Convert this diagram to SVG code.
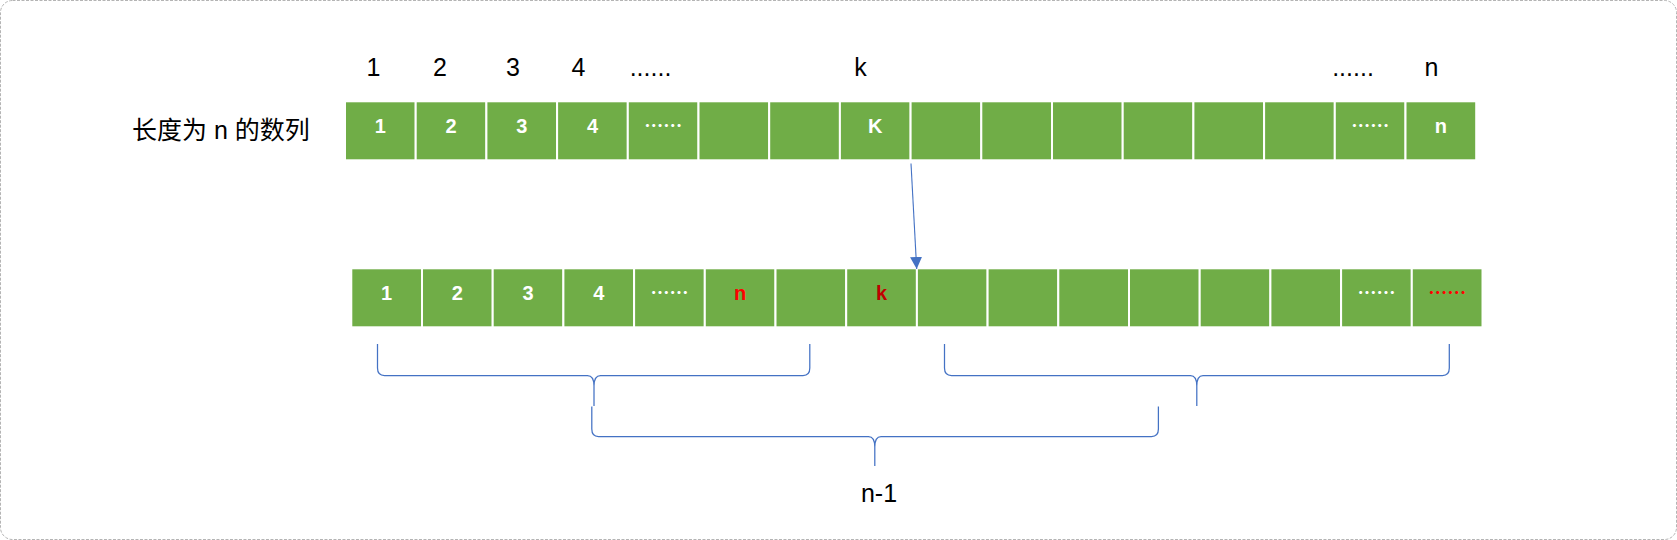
<svg xmlns="http://www.w3.org/2000/svg" width="1677" height="540" viewBox="0 0 1677 540">
  <defs>
    <style>
      .cell { fill: #70AD47; stroke: #FFFFFF; stroke-width: 2; }
      .ct { font-family: "Liberation Sans", "Noto Sans CJK SC", sans-serif; font-size: 20px; font-weight: bold; fill: #FFFFFF; text-anchor: middle; }
      .dots { font-family: "Noto Sans CJK SC", sans-serif; font-size: 19px; font-weight: bold; fill: #FFFFFF; text-anchor: middle; }
      .red { fill: #FF0000; }
      .dred { fill: #C00000; }
      .lbl { font-family: "Liberation Sans", "Noto Sans CJK SC", sans-serif; font-size: 25px; fill: #000000; text-anchor: middle; }
      .brace { fill: none; stroke: #4472C4; stroke-width: 1.25; }
      .conn { fill: none; stroke: #4472C4; stroke-width: 1.1; }
    </style>
    <marker id="arrow" viewBox="0 0 12 12" refX="12" refY="6" markerWidth="12" markerHeight="12" markerUnits="userSpaceOnUse" orient="auto">
      <path d="M0,0 L12,6 L0,12 z" fill="#4472C4"/>
    </marker>
  </defs>

  <rect id="frame" x="0.5" y="0.5" width="1676" height="539" rx="12" ry="12" fill="#FFFFFF" stroke="#B4B4B4" stroke-width="1" stroke-dasharray="3 1.5"/>

  <g id="top-labels">
    <text class="lbl" x="373.5" y="76">1</text>
    <text class="lbl" x="440" y="76">2</text>
    <text class="lbl" x="513" y="76">3</text>
    <text class="lbl" x="578.5" y="76">4</text>
    <text class="lbl" x="650.5" y="76">......</text>
    <text class="lbl" x="860.5" y="76">k</text>
    <text class="lbl" x="1353" y="76">......</text>
    <text class="lbl" x="1431.5" y="76">n</text>
  </g>

  <g id="title">
    <text x="132" y="139" style="font-family: 'Liberation Sans', 'Noto Sans CJK SC', sans-serif; font-size: 25px; fill: #000000;">长度为 n 的数列</text>
  </g>

  <g id="top-row">
    <g id="t1"><rect class="cell" x="345.0" y="101.3" width="70.7" height="59"/><text class="ct" x="380.35" y="133">1</text></g>
    <g id="t2"><rect class="cell" x="415.7" y="101.3" width="70.7" height="59"/><text class="ct" x="451.05" y="133">2</text></g>
    <g id="t3"><rect class="cell" x="486.4" y="101.3" width="70.7" height="59"/><text class="ct" x="521.75" y="133">3</text></g>
    <g id="t4"><rect class="cell" x="557.1" y="101.3" width="70.7" height="59"/><text class="ct" x="592.45" y="133">4</text></g>
    <g id="t5"><rect class="cell" x="627.8" y="101.3" width="70.7" height="59"/><text class="dots" x="663.15" y="132.8">……</text></g>
    <g id="t6"><rect class="cell" x="698.5" y="101.3" width="70.7" height="59"/></g>
    <g id="t7"><rect class="cell" x="769.2" y="101.3" width="70.7" height="59"/></g>
    <g id="t8"><rect class="cell" x="839.9" y="101.3" width="70.7" height="59"/><text class="ct" x="875.25" y="133">K</text></g>
    <g id="t9"><rect class="cell" x="910.6" y="101.3" width="70.7" height="59"/></g>
    <g id="t10"><rect class="cell" x="981.3" y="101.3" width="70.7" height="59"/></g>
    <g id="t11"><rect class="cell" x="1052.0" y="101.3" width="70.7" height="59"/></g>
    <g id="t12"><rect class="cell" x="1122.7" y="101.3" width="70.7" height="59"/></g>
    <g id="t13"><rect class="cell" x="1193.4" y="101.3" width="70.7" height="59"/></g>
    <g id="t14"><rect class="cell" x="1264.1" y="101.3" width="70.7" height="59"/></g>
    <g id="t15"><rect class="cell" x="1334.8" y="101.3" width="70.7" height="59"/><text class="dots" x="1370.15" y="132.8">……</text></g>
    <g id="t16"><rect class="cell" x="1405.5" y="101.3" width="70.7" height="59"/><text class="ct" x="1440.85" y="133">n</text></g>
  </g>

  <g id="bottom-row">
    <g id="b1"><rect class="cell" x="351.3" y="268.3" width="70.7" height="59"/><text class="ct" x="386.65" y="300">1</text></g>
    <g id="b2"><rect class="cell" x="422.0" y="268.3" width="70.7" height="59"/><text class="ct" x="457.35" y="300">2</text></g>
    <g id="b3"><rect class="cell" x="492.7" y="268.3" width="70.7" height="59"/><text class="ct" x="528.05" y="300">3</text></g>
    <g id="b4"><rect class="cell" x="563.4" y="268.3" width="70.7" height="59"/><text class="ct" x="598.75" y="300">4</text></g>
    <g id="b5"><rect class="cell" x="634.1" y="268.3" width="70.7" height="59"/><text class="dots" x="669.45" y="299.7">……</text></g>
    <g id="b6"><rect class="cell" x="704.8" y="268.3" width="70.7" height="59"/><text class="ct red" x="740.15" y="300">n</text></g>
    <g id="b7"><rect class="cell" x="775.5" y="268.3" width="70.7" height="59"/></g>
    <g id="b8"><rect class="cell" x="846.2" y="268.3" width="70.7" height="59"/><text class="ct dred" x="881.55" y="300">k</text></g>
    <g id="b9"><rect class="cell" x="916.9" y="268.3" width="70.7" height="59"/></g>
    <g id="b10"><rect class="cell" x="987.6" y="268.3" width="70.7" height="59"/></g>
    <g id="b11"><rect class="cell" x="1058.3" y="268.3" width="70.7" height="59"/></g>
    <g id="b12"><rect class="cell" x="1129.0" y="268.3" width="70.7" height="59"/></g>
    <g id="b13"><rect class="cell" x="1199.7" y="268.3" width="70.7" height="59"/></g>
    <g id="b14"><rect class="cell" x="1270.4" y="268.3" width="70.7" height="59"/></g>
    <g id="b15"><rect class="cell" x="1341.1" y="268.3" width="70.7" height="59"/><text class="dots" x="1376.45" y="299.7">……</text></g>
    <g id="b16"><rect class="cell" x="1411.8" y="268.3" width="70.7" height="59"/><text class="dots red" x="1447.15" y="299.7">……</text></g>
  </g>

  <g id="connectors">
    <line class="conn" x1="911" y1="163.5" x2="916.7" y2="269" marker-end="url(#arrow)"/>
  </g>

  <g id="braces">
    <path id="brace1" class="brace" d="M377.5,344 L377.5,368 Q377.5,375.5 384.5,375.5 L587.5,375.5 Q594,375.5 594,386 L594,406 M594,386 Q594,375.5 600.5,375.5 L803,375.5 Q809.8,375.5 809.8,368 L809.8,344"/>
    <path id="brace2" class="brace" d="M944.5,344 L944.5,368 Q944.5,375.5 951.5,375.5 L1190.5,375.5 Q1196.8,375.5 1196.8,386 L1196.8,406 M1196.8,386 Q1196.8,375.5 1203,375.5 L1442.5,375.5 Q1449.3,375.5 1449.3,368 L1449.3,344"/>
    <path id="brace3" class="brace" d="M591.8,406.5 L591.8,429 Q591.8,436.5 598.5,436.5 L868.5,436.5 Q874.8,436.5 874.8,447 L874.8,466 M874.8,447 Q874.8,436.5 881,436.5 L1151.5,436.5 Q1158.4,436.5 1158.4,429 L1158.4,406.5"/>
  </g>

  <g id="bottom-label">
    <text class="lbl" x="879" y="501.7">n-1</text>
  </g>
</svg>
